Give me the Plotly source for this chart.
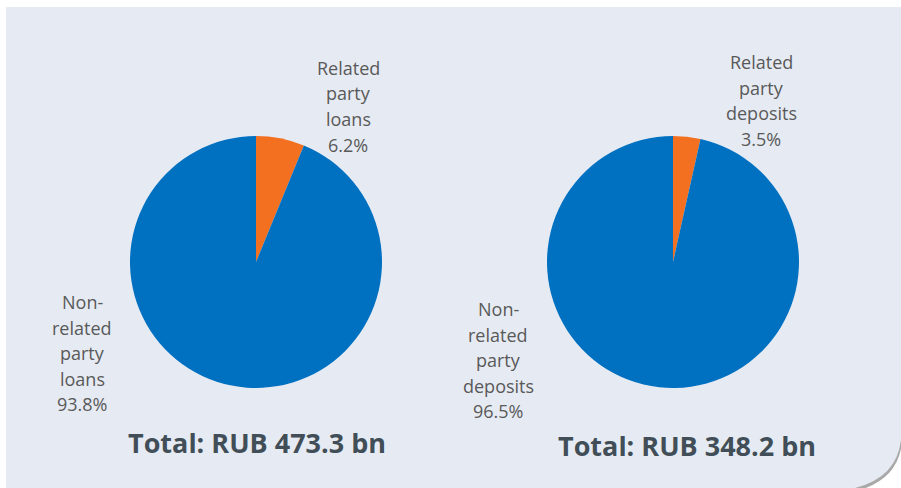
import plotly.graph_objects as go

W, H = 901, 488

loan_labels = ["Related party loans", "Non-related party loans"]
loan_values = [6.2, 93.8]
loan_total = "Total: RUB 473.3 bn"

dep_labels = ["Related party deposits", "Non-related party deposits"]
dep_values = [3.5, 96.5]
dep_total = "Total: RUB 348.2 bn"

colors = ["#F37021", "#0070C0"]
FONT = "Open Sans"
TXT = "#595959"
TITLE = "#414E57"


def px_x(x):
    return x / W


def px_y(y):
    return 1 - y / H


def dom(cx, cy, r):
    return dict(x=[px_x(cx - r), px_x(cx + r)], y=[px_y(cy + r), px_y(cy - r)])


fig = go.Figure()
fig.add_trace(go.Pie(labels=loan_labels, values=loan_values, sort=False,
                     direction="clockwise", rotation=0, textinfo="none",
                     marker=dict(colors=colors, line=dict(width=0)),
                     domain=dom(256, 262, 126), hoverinfo="label+percent"))
fig.add_trace(go.Pie(labels=dep_labels, values=dep_values, sort=False,
                     direction="clockwise", rotation=0, textinfo="none",
                     marker=dict(colors=colors, line=dict(width=0)),
                     domain=dom(673, 262, 126), hoverinfo="label+percent"))


def lab_lines(name, v):
    words = name.replace("Non-related", "Non- related").split(" ")
    return words + [f"{v:.1f}%"]


ann = []
def add(text, x, y, size=18, color=TXT):
    ann.append(dict(text=text, x=px_x(x), y=px_y(y), xref="paper", yref="paper",
                    xanchor="center", yanchor="middle", showarrow=False,
                    font=dict(family=FONT, size=size, color=color)))


def add_block(lines, x, y_first, step=25.5):
    for i, t in enumerate(lines):
        add(t, x, y_first + i * step)


add_block(lab_lines(loan_labels[0], loan_values[0]), 348, 68)
add_block(lab_lines(loan_labels[1], loan_values[1]), 82, 302)
add_block(lab_lines(dep_labels[0], dep_values[0]), 761, 62)
add_block(lab_lines(dep_labels[1], dep_values[1]), 498, 309)
add(f"<b>{loan_total}</b>", 257, 442, size=27, color=TITLE)
add(f"<b>{dep_total}</b>", 687, 445, size=27, color=TITLE)


def path(dx, dy):
    return (f"M {px_x(6+dx)},{px_y(7+dy)} L {px_x(901+dx)},{px_y(7+dy)} "
            f"L {px_x(901+dx)},{px_y(440+dy)} Q {px_x(896+dx)},{px_y(482+dy)} {px_x(845+dx)},{px_y(490+dy)} "
            f"L {px_x(6+dx)},{px_y(490+dy)} Z")


shapes = [
    dict(type="path", path=path(1, 3), xref="paper", yref="paper",
         fillcolor="#A9A9A9", line=dict(width=0), layer="below"),
    dict(type="path", path=path(0, 0), xref="paper", yref="paper",
         fillcolor="#E6EBF3", line=dict(width=0), layer="below"),
]

fig.update_layout(width=W, height=H, margin=dict(l=0, r=0, t=0, b=0),
                  paper_bgcolor="white", plot_bgcolor="white", showlegend=False,
                  annotations=ann, shapes=shapes)
fig.write_html("out.html", config={"displayModeBar": False})

with open("out.html", "r", encoding="utf-8") as f:
    html = f.read()
html = html.replace("<head>", "<head><style>html,body{margin:0;padding:0;overflow:hidden;}</style>", 1)
with open("out.html", "w", encoding="utf-8") as f:
    f.write(html)
